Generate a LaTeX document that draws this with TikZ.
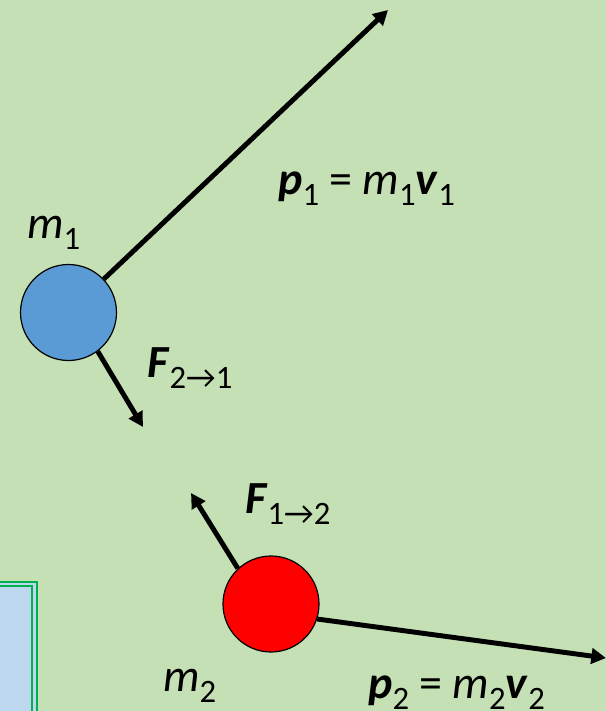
\documentclass[tikz,border=0pt]{standalone}
\usepackage{fontspec}
\setmainfont{Carlito}
\usepackage{tikz}
\usetikzlibrary{arrows.meta,positioning}
\definecolor{bgGreen}{HTML}{C5E0B4}
\definecolor{ballBlue}{HTML}{5B9BD5}
\definecolor{ballRed}{HTML}{FF0000}
\definecolor{boxBlue}{HTML}{BDD7EE}
\definecolor{boxGreen}{HTML}{00B050}
\newcommand{\lbl}[1]{\raisebox{-0.24em}{\fontsize{24.5}{28}\selectfont #1}}
\tikzset{
  ball/.style={draw=black, circle, line width=0.9pt, minimum size=72pt, inner sep=0pt},
  vec/.style={line width=3.7pt, -{Triangle[length=11pt,width=11.5pt]}},
  tag/.style={inner sep=0pt, anchor=base west, font=\fontsize{34.5}{40}\selectfont}
}
\begin{document}
\begin{tikzpicture}[x=0.75pt,y=-0.75pt]

% Background
\fill[bgGreen] (0,0) rectangle (606,711);
\useasboundingbox (0,0) rectangle (606,711);

% Box at the lower left
\fill[boxBlue] (-20,584) rectangle (34.5,740);
\draw[boxGreen, line width=1.5pt, double=boxBlue, double distance=2.2pt] (-20,584) -- (34.5,584) -- (34.5,740);

% Balls
\node[ball, fill=ballBlue] (m1) at (68.5,312.5) {};
\node[ball, fill=ballRed] (m2) at (271,604) {};

% Arrow tips
\coordinate (p1tip) at (388,10);
\coordinate (f21tip) at (143,427);
\coordinate (f12tip) at (191,493);
\coordinate (p2tip) at (606,658);

% Momenta and forces
\draw[vec] (m1) -- (p1tip);
\draw[vec] (m1.-53) -- (f21tip);
\draw[vec] (m2.133) -- (f12tip);
\draw[vec] (m2.-18) -- (p2tip);

% Labels
\node[tag] (lm1) at (27,238) {\textit{m}\lbl{1}};
\node[tag] (lp1) at (278,194) {\textbf{\textit{p}}\lbl{1} = \textit{m}\lbl{1}\textbf{\textit{v}}\lbl{1}};
\node[tag] (lf21) at (147,377) {\textbf{\textit{F}}\lbl{2→1}};
\node[tag] (lf12) at (245,513) {\textbf{\textit{F}}\lbl{1→2}};
\node[tag] (lm2) at (163,691) {\textit{m}\lbl{2}};
\node[tag] (lp2) at (368,698) {\textbf{\textit{p}}\lbl{2} = \textit{m}\lbl{2}\textbf{\textit{v}}\lbl{2}};
\end{tikzpicture}
\end{document}
